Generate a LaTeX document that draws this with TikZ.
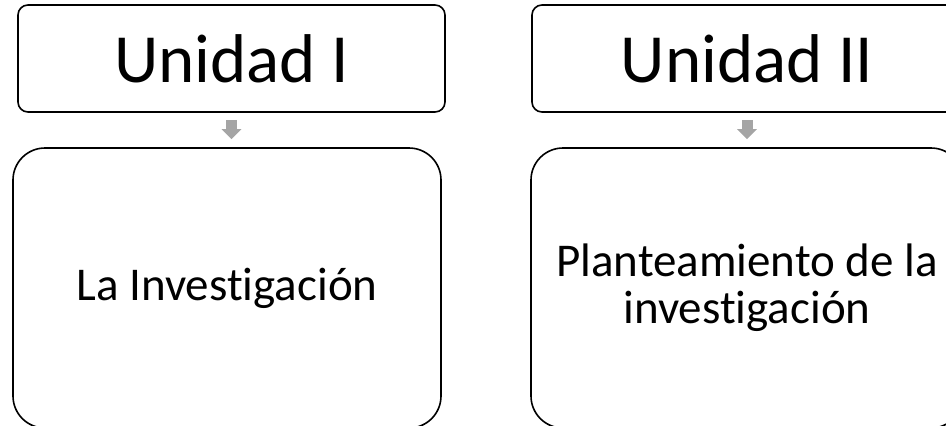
\documentclass[tikz,border=0pt]{standalone}
\usepackage{fontspec}
\setmainfont{Carlito}
\usetikzlibrary{arrows.meta}
\definecolor{arrowgray}{HTML}{A5A5A5}
% break the t-i ligature of Carlito
\newcommand{\nolig}{\kern0pt{}}

\begin{document}
\begin{tikzpicture}[x=1pt, y=-1pt,
	unit/.style={draw, rounded corners=10pt, line width=1.6pt, minimum width=427pt, minimum height=107pt, font=\fontsize{69}{80}\selectfont},
	topic/.style={draw, rounded corners=32pt, line width=1.6pt, minimum width=428pt, minimum height=280pt, align=center, font=\fontsize{47}{47}\selectfont},
	link/.style={arrowgray, line width=11pt, -{Triangle[width=19pt, length=10pt]}, shorten <=7pt, shorten >=8pt}]
	\useasboundingbox (0,0) rectangle (946,426);
	\clip (0,0) rectangle (946,426);
	\node[unit] (u1) at (231.5,58.5) {Unidad I};
	\node[unit, minimum width=430pt] (u2) at (747,58.5) {Unidad II};
	\node[topic] (t1) at (227,288) {La Invest\nolig igación};
	\node[topic, minimum width=432pt] (t2) at (747,288) {Planteamiento de la\\invest\nolig igación};
	\draw[link] (u1.south) -- (u1.south |- t1.north);
	\draw[link] (u2.south) -- (u2.south |- t2.north);
\end{tikzpicture}
\end{document}
